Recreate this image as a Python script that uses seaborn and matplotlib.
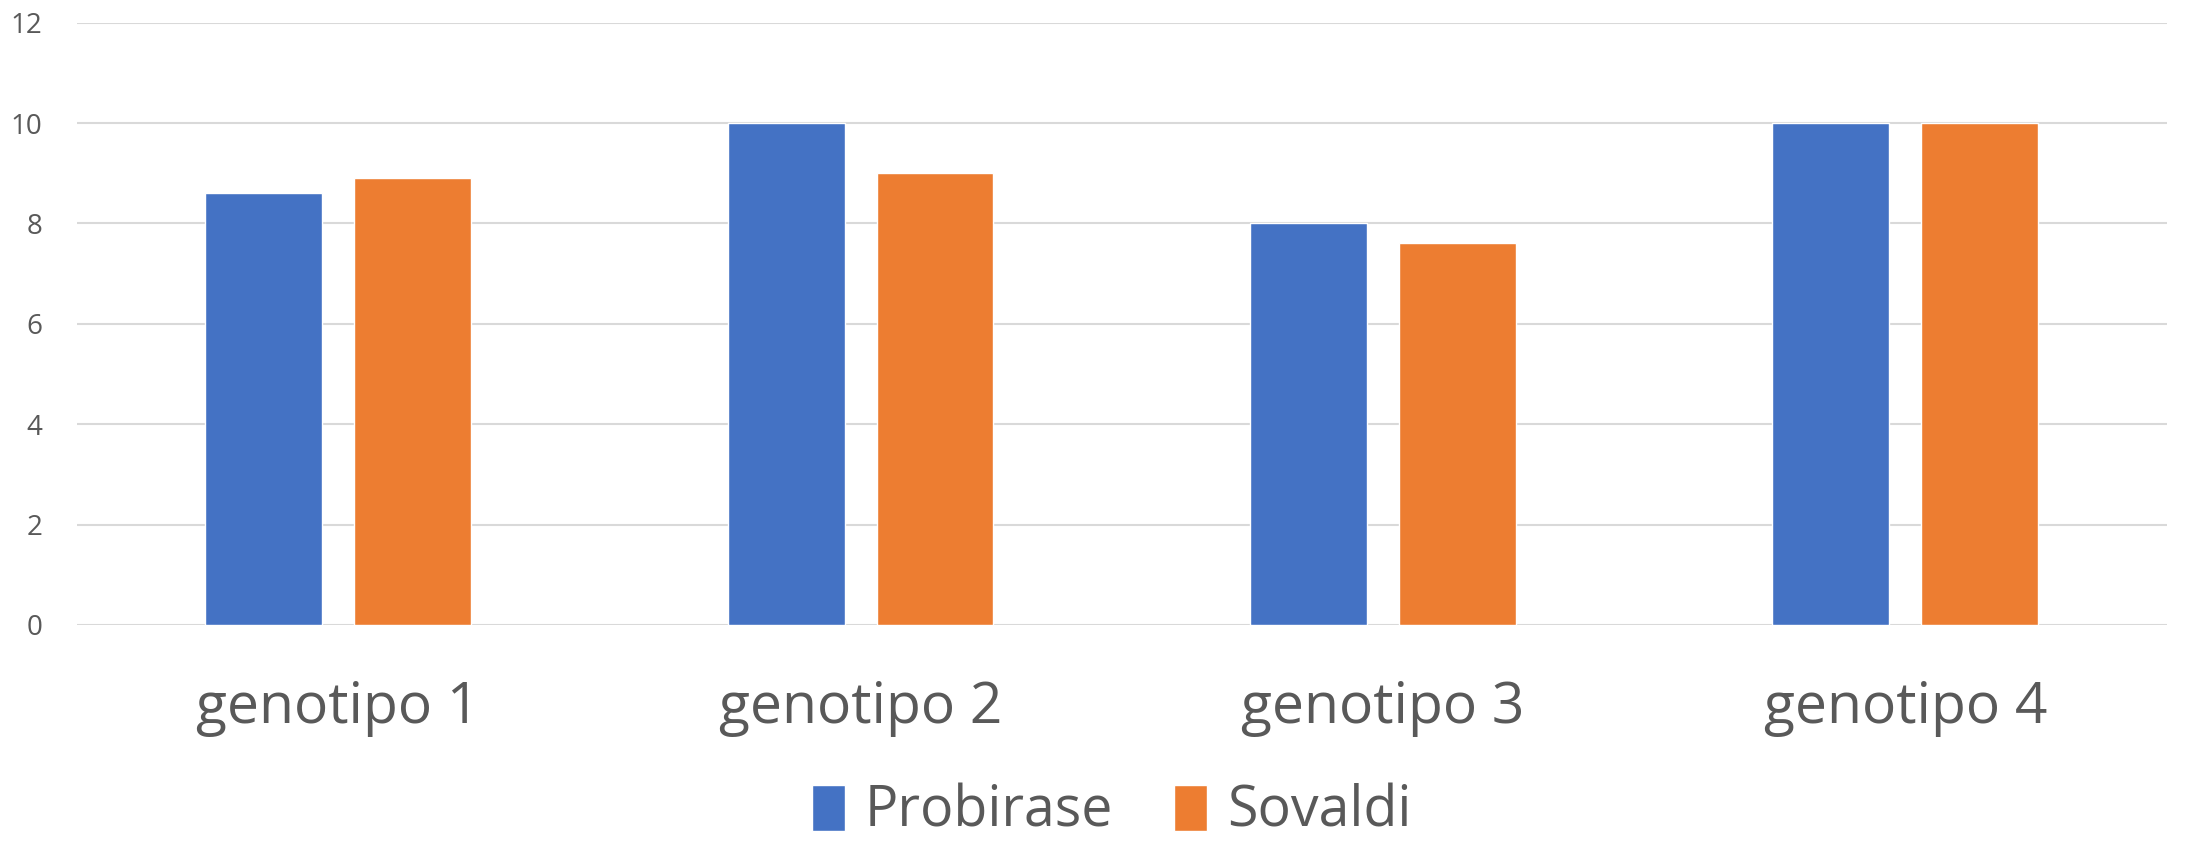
import pandas as pd
import seaborn as sns
import matplotlib.pyplot as plt

# Chart data
genotipos = ['genotipo 1', 'genotipo 2', 'genotipo 3', 'genotipo 4']
probirase = [8.6, 10, 8.0, 10]
sovaldi = [8.9, 9.0, 7.6, 10]
y_ticks = [0, 2, 4, 6, 8, 10, 12]

df = pd.DataFrame({
    'genotipo': genotipos * 2,
    'valor': probirase + sovaldi,
    'farmaco': ['Probirase'] * 4 + ['Sovaldi'] * 4,
})

sns.set_style('white')
plt.rcParams['font.family'] = ['Open Sans', 'DejaVu Sans']
text_color = '#595959'

fig = plt.figure(figsize=(21.88, 8.41), dpi=100)
ax = fig.add_axes([0.0352, 0.257, 0.955, 0.716])

sns.barplot(data=df, x='genotipo', y='valor', hue='farmaco',
            palette=['#4472C4', '#ED7D31'], width=0.57, gap=0.215,
            saturation=1, ax=ax)

ax.set_ylim(0, 12)
ax.set_xlim(-0.5, 3.5)
ax.set_yticks(y_ticks)
ax.yaxis.grid(True, color='#D9D9D9', linewidth=1.5)
ax.set_axisbelow(True)
for s in ax.spines.values():
    s.set_visible(False)
ax.set_xlabel('')
ax.set_ylabel('')
ax.tick_params(axis='y', labelsize=20, labelcolor=text_color, length=0, pad=25)
ax.tick_params(axis='x', labelsize=41, labelcolor=text_color, length=0, pad=40)

ax.legend(loc='center', bbox_to_anchor=(0.508, 0.034), bbox_transform=fig.transFigure,
          ncol=2, frameon=False, fontsize=40, labelcolor=text_color,
          handlelength=0.6, handleheight=0.9, handletextpad=0.35, columnspacing=1.1)

plt.savefig('out.png', dpi=100)
